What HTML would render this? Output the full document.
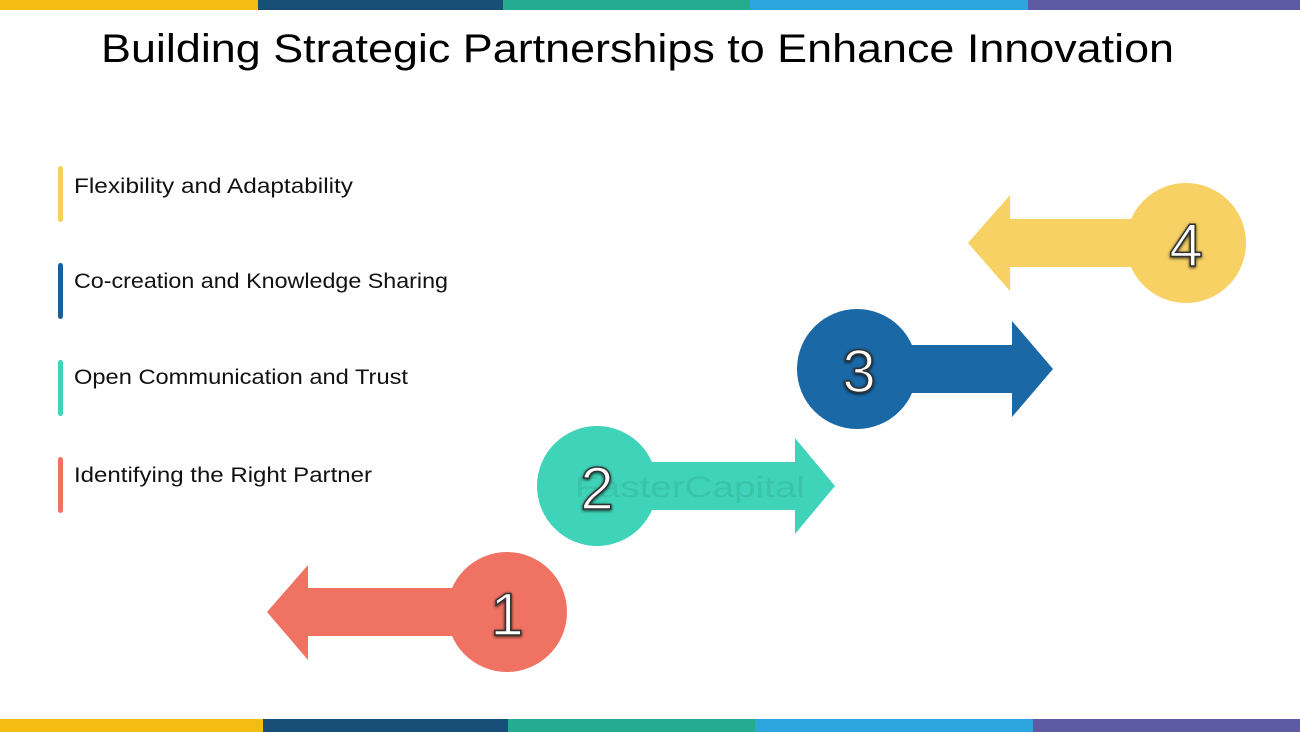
<!DOCTYPE html>
<html><head><meta charset="utf-8"><style>html,body{margin:0;padding:0;background:#fff}svg{display:block}</style></head><body>
<svg width="1300" height="732" viewBox="0 0 1300 732" xmlns="http://www.w3.org/2000/svg" font-family="Liberation Sans, sans-serif">
<defs>
<filter id="sh" x="-30%" y="-30%" width="160%" height="160%"><feDropShadow dx="0" dy="1" stdDeviation="1.5" flood-color="#000" flood-opacity="0.8"/></filter>
</defs>
<rect width="1300" height="732" fill="#fff"/>
<rect x="0" y="0" width="258" height="10" fill="#f5bd12"/>
<rect x="258" y="0" width="245" height="10" fill="#174f79"/>
<rect x="503" y="0" width="247" height="10" fill="#25ab8f"/>
<rect x="750" y="0" width="278" height="10" fill="#2da6df"/>
<rect x="1028" y="0" width="272" height="10" fill="#5c5aa3"/>
<rect x="0" y="719" width="263" height="13" fill="#f5bd12"/>
<rect x="263" y="719" width="245" height="13" fill="#174f79"/>
<rect x="508" y="719" width="247" height="13" fill="#25ab8f"/>
<rect x="755" y="719" width="278" height="13" fill="#2da6df"/>
<rect x="1033" y="719" width="267" height="13" fill="#5c5aa3"/>
<text x="101" y="62" font-size="40" fill="#000" textLength="1073" lengthAdjust="spacingAndGlyphs">Building Strategic Partnerships to Enhance Innovation</text>

<rect x="58" y="166" width="5" height="56" rx="2.5" fill="#f5d060"/>
<text x="74" y="193" font-size="21" fill="#111" textLength="279" lengthAdjust="spacingAndGlyphs">Flexibility and Adaptability</text>
<rect x="58" y="263" width="5" height="56" rx="2.5" fill="#1b5f98"/>
<text x="74" y="288" font-size="21" fill="#111" textLength="374" lengthAdjust="spacingAndGlyphs">Co-creation and Knowledge Sharing</text>
<rect x="58" y="360" width="5" height="56" rx="2.5" fill="#3fd4b9"/>
<text x="74" y="384" font-size="21" fill="#111" textLength="334" lengthAdjust="spacingAndGlyphs">Open Communication and Trust</text>
<rect x="58" y="457" width="5" height="56" rx="2.5" fill="#f07262"/>
<text x="74" y="482" font-size="21" fill="#111" textLength="298" lengthAdjust="spacingAndGlyphs">Identifying the Right Partner</text>

<!-- 1 -->
<polygon points="267,612 308,565 308,588 470,588 470,636 308,636 308,660" fill="#f07262"/>
<circle cx="507" cy="612" r="60" fill="#f07262"/>
<text x="507" y="635" font-size="60" text-anchor="middle" fill="#fff" stroke="#333" stroke-width="1.5" filter="url(#sh)">1</text>
<!-- 2 -->
<polygon points="620,462 795,462 795,438 835,486 795,534 795,510 620,510" fill="#3fd4b9"/>
<circle cx="597" cy="486" r="60" fill="#3fd4b9"/>
<text x="690" y="497" font-size="30" text-anchor="middle" fill="#3ac4aa" textLength="230" lengthAdjust="spacingAndGlyphs">FasterCapital</text>
<text x="597" y="509" font-size="60" text-anchor="middle" fill="#fff" stroke="#333" stroke-width="1.5" filter="url(#sh)">2</text>
<!-- 3 -->
<polygon points="880,345 1012,345 1012,321 1053,369 1012,417 1012,393 880,393" fill="#1a68a5"/>
<circle cx="857" cy="369" r="60" fill="#1a68a5"/>
<text x="859" y="392" font-size="60" text-anchor="middle" fill="#fff" stroke="#333" stroke-width="1.5" filter="url(#sh)">3</text>
<!-- 4 -->
<polygon points="968,243 1010,195 1010,219 1150,219 1150,267 1010,267 1010,291" fill="#f7d163"/>
<circle cx="1186" cy="243" r="60" fill="#f7d163"/>
<text x="1186" y="266" font-size="60" text-anchor="middle" fill="#fff" stroke="#333" stroke-width="1.5" filter="url(#sh)">4</text>
</svg>
</body></html>
